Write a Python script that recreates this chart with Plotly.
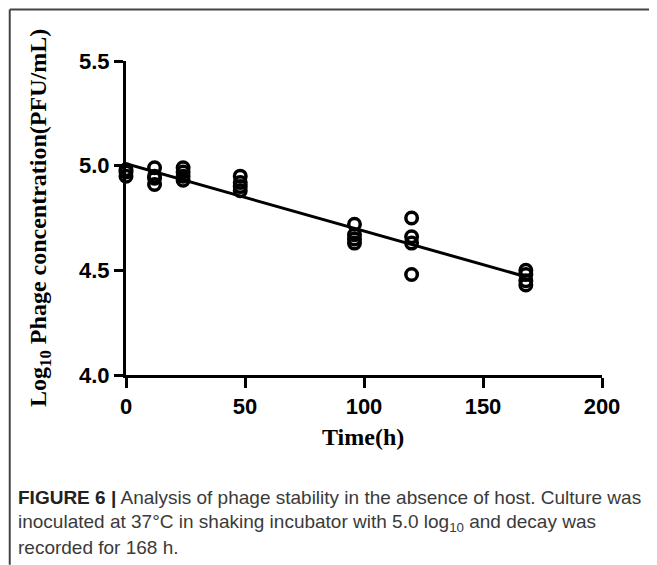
import numpy as np
import plotly.graph_objects as go

# ---- data ----
time_h = [0, 0, 0,
          12, 12, 12, 12,
          24, 24, 24, 24,
          48, 48, 48, 48,
          96, 96, 96, 96,
          120, 120, 120, 120,
          168, 168, 168, 168]
log_conc = [4.98, 4.97, 4.95,
            4.99, 4.95, 4.94, 4.91,
            4.99, 4.97, 4.95, 4.93,
            4.95, 4.92, 4.90, 4.88,
            4.72, 4.67, 4.65, 4.63,
            4.75, 4.66, 4.63, 4.48,
            4.50, 4.48, 4.45, 4.43]
x_ticks = [0, 50, 100, 150, 200]
y_ticks = [4.0, 4.5, 5.0, 5.5]

# linear fit
slope, intercept = np.polyfit(time_h, log_conc, 1)
fit_x = [0, 168]
fit_y = [intercept + slope * v for v in fit_x]

# page has an 8px body margin: work in page pixels, shift into figure pixels
OFF = 8
W, H = 657 - OFF, 565 - OFF
L, R, T, B = 125.5 - OFF, 602.5 - OFF, 60.5 - OFF, 375.0 - OFF


def px(xp):
    return (xp - OFF - L) / (R - L)


def py(yp):
    return (B - (yp - OFF)) / (B - T)


fig = go.Figure()
fig.add_trace(go.Scatter(x=fit_x, y=fit_y, mode="lines",
                         line=dict(color="black", width=3),
                         cliponaxis=False, showlegend=False))
fig.add_trace(go.Scatter(x=time_h, y=log_conc, mode="markers",
                         marker=dict(symbol="circle-open", size=11.5, color="black",
                                     line=dict(width=3.5, color="black")),
                         cliponaxis=False, showlegend=False))

tickfont = dict(family="Liberation Sans, Arial, sans-serif", size=22, color="black",
                weight="bold")
fig.update_xaxes(range=[0, 200], tickvals=x_ticks, ticktext=[str(v) for v in x_ticks],
                 showline=True, linecolor="black", linewidth=3, ticks="outside",
                 ticklen=10, tickwidth=3, tickcolor="black", showgrid=False,
                 zeroline=False, tickfont=tickfont)
fig.update_yaxes(range=[4.0, 5.5], tickvals=y_ticks, ticktext=[f"{v:.1f}" for v in y_ticks],
                 showline=True, linecolor="black", linewidth=3, ticks="outside",
                 ticklen=9, tickwidth=3, tickcolor="black", showgrid=False,
                 zeroline=False, tickfont=tickfont)

# frame lines (left and top)
fig.add_shape(type="line", xref="paper", yref="paper",
              x0=px(9), y0=py(9), x1=px(657), y1=py(9),
              line=dict(color="#444444", width=2))
fig.add_shape(type="line", xref="paper", yref="paper",
              x0=px(9), y0=py(9), x1=px(9), y1=py(565),
              line=dict(color="#444444", width=2))

serif = "Liberation Serif, Times New Roman, serif"
fig.add_annotation(xref="paper", yref="paper", x=px(40), y=py(218),
                   text="<b>Log<sub>10</sub> Phage concentration(PFU/mL)</b>",
                   textangle=-90, showarrow=False,
                   font=dict(family=serif, size=24, color="black"),
                   xanchor="center", yanchor="middle")
fig.add_annotation(xref="paper", yref="paper", x=px(363), y=py(437),
                   text="<b>Time(h)</b>", showarrow=False,
                   font=dict(family=serif, size=24, color="black"),
                   xanchor="center", yanchor="middle")

capfont = dict(family="Liberation Sans, Arial, sans-serif", size=19, color="#3a3a3a")
cap_lines = [
    "<b><span style='color:#222'>FIGURE 6 |</span></b> Analysis of phage stability in the absence of host. Culture was",
    "inoculated at 37°C in shaking incubator with 5.0 log<sub>10</sub> and decay was",
    "recorded for 168 h.",
]
cap_y = [498, 523, 548]
for txt, yy in zip(cap_lines, cap_y):
    fig.add_annotation(xref="paper", yref="paper", x=px(15), y=py(yy), text=txt,
                       showarrow=False, font=capfont, xanchor="left", yanchor="middle",
                       align="left")

fig.update_layout(width=W, height=H, margin=dict(l=L, r=W - R, t=T, b=H - B),
                  paper_bgcolor="white", plot_bgcolor="white")

fig.write_html("out.html")
